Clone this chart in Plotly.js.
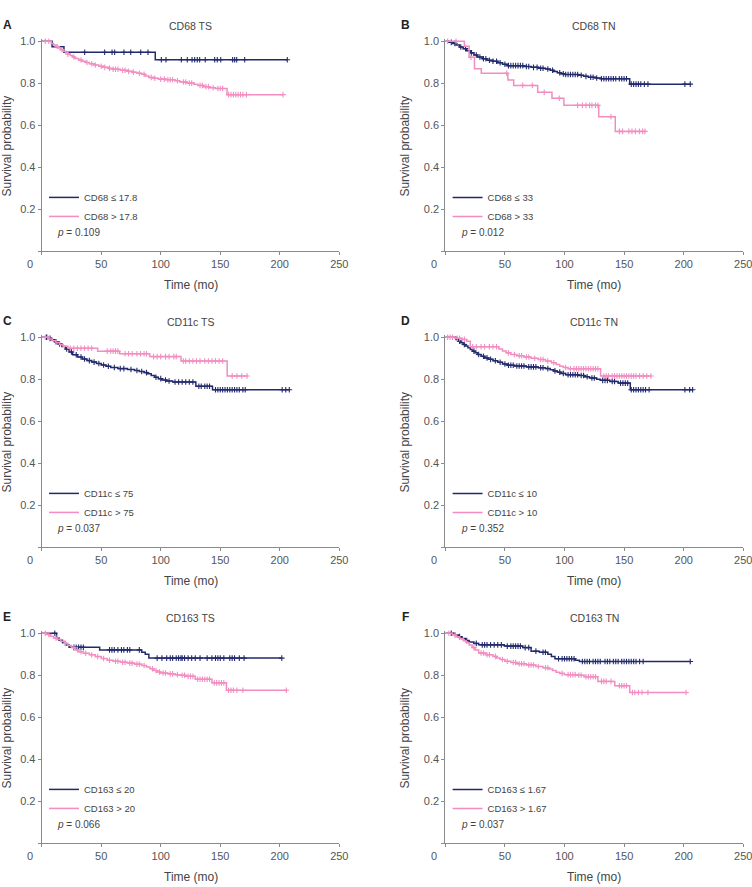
<!DOCTYPE html>
<html>
<head>
<meta charset="utf-8">
<script src="https://cdn.plot.ly/plotly-3.0.1.min.js"></script>
<style>
  html, body { margin: 0; padding: 0; background: #ffffff; }
  #chart { width: 752px; height: 887px; }
</style>
</head>
<body>
<div id="chart"></div>
<script>
// Kaplan-Meier survival curves: six panels, two groups each.
// Each curve: step times (T), survival after each step (S), censoring times (C).

const panelLetters = ['A', 'B', 'C', 'D', 'E', 'F'];
const panelTitles = ['CD68 TS', 'CD68 TN', 'CD11c TS', 'CD11c TN', 'CD163 TS', 'CD163 TN'];
const lowLabels = ['CD68 ≤ 17.8', 'CD68 ≤ 33', 'CD11c ≤ 75', 'CD11c ≤ 10', 'CD163 ≤ 20', 'CD163 ≤ 1.67'];
const highLabels = ['CD68 > 17.8', 'CD68 > 33', 'CD11c > 75', 'CD11c > 10', 'CD163 > 20', 'CD163 > 1.67'];
const pValues = ['0.109', '0.012', '0.037', '0.352', '0.066', '0.037'];
const xTicks = [0, 50, 100, 150, 200, 250];
const yTicks = [0, 0.2, 0.4, 0.6, 0.8, 1.0];

// A: CD68 TS
const aLowT = [0, 8.7, 18.7, 95.4];
const aLowS = [1, 0.974, 0.948, 0.912];
const aLowC = [36.1, 52.9, 59.1, 61.3, 69.1, 74.8, 83.2, 89.3, 100.5, 104.4, 117.3, 122.3, 126.3, 128.5, 130.7, 132.7, 137.4, 145.3, 147.5, 150.4, 160.4, 162.1, 163.8, 170.5, 206.3];
const aHighT = [0, 8, 10, 12, 14, 16, 18, 20, 22, 24, 26, 28, 31, 34, 37, 40, 44, 48, 52, 56, 60, 66, 72, 76, 80, 84, 87, 90, 94, 98, 104, 112, 116, 122, 128, 131, 136, 141, 146, 155.7];
const aHighS = [1, 0.99, 0.982, 0.975, 0.968, 0.96, 0.953, 0.946, 0.939, 0.932, 0.925, 0.918, 0.911, 0.905, 0.899, 0.893, 0.887, 0.881, 0.876, 0.871, 0.867, 0.862, 0.857, 0.853, 0.848, 0.843, 0.835, 0.828, 0.824, 0.82, 0.817, 0.812, 0.806, 0.801, 0.796, 0.79, 0.784, 0.779, 0.775, 0.746];
const aHighC = [3, 6, 13, 17, 22, 27, 33, 38, 42, 45, 50, 53, 57, 60, 62, 64, 68, 70, 73, 77, 82, 86, 92, 95, 100, 103, 106, 108, 110, 114, 119, 121, 124, 126, 133, 135, 138, 140, 144, 148, 150, 152, 157, 159, 161, 163, 165, 167, 169, 172, 202.7];

// B: CD68 TN
const bLowT = [0, 3, 6, 9, 12, 15, 18, 21, 24, 27, 31, 35, 40, 44, 48, 52, 66, 72, 78, 84, 88, 91, 94, 97, 100, 112, 116, 120, 126, 130, 154.7];
const bLowS = [1, 0.995, 0.99, 0.982, 0.973, 0.965, 0.955, 0.945, 0.935, 0.925, 0.917, 0.91, 0.905, 0.898, 0.891, 0.884, 0.88, 0.876, 0.872, 0.868, 0.862, 0.856, 0.85, 0.845, 0.842, 0.838, 0.833, 0.829, 0.825, 0.822, 0.796];
const bLowC = [5, 8, 13, 17, 22, 26, 29, 32, 34, 37, 40, 43, 46, 50, 53, 55, 57, 59, 61, 63, 65, 68, 70, 74, 77, 80, 82, 86, 90, 96, 99, 101, 103, 105, 107, 109, 111, 114, 118, 122, 124, 127, 131, 133, 135, 137, 139, 141, 143, 146, 148, 150, 152, 156, 158, 160, 162, 164, 167, 170, 201, 205.5];
const bHighT = [0, 16, 20, 24.5, 30.2, 52.5, 57.4, 77.5, 89.5, 99.5, 128.7, 142.6];
const bHighS = [1, 0.976, 0.924, 0.869, 0.848, 0.816, 0.79, 0.757, 0.729, 0.695, 0.641, 0.571];
const bHighC = [2, 9, 21.5, 51.5, 65, 73, 83, 95.6, 111, 115, 118, 121, 123, 126, 128, 139, 146, 148.8, 154, 156.6, 159.4, 162.8, 165.6, 167.5];

// C: CD11c TS
const cLowT = [0, 5, 8, 11, 14, 17, 20, 23, 26, 30, 34, 38, 42, 46, 50, 54, 58, 64, 72, 78, 82, 86, 89, 92, 95, 98, 101, 105, 110, 129.5, 143.5];
const cLowS = [1, 0.995, 0.988, 0.979, 0.968, 0.956, 0.944, 0.93, 0.917, 0.906, 0.897, 0.889, 0.882, 0.875, 0.868, 0.862, 0.856, 0.851, 0.847, 0.842, 0.837, 0.832, 0.826, 0.818, 0.81, 0.803, 0.797, 0.792, 0.787, 0.767, 0.75];
const cLowC = [4, 7, 12, 15, 21, 25, 29, 33, 36, 40, 44, 48, 52, 56, 61, 66, 69, 75, 80, 84, 88, 96, 100, 104, 107, 112, 115, 118, 121, 124, 127, 132, 134, 137, 139, 141, 146, 148, 150, 152, 154, 156, 158, 160, 162, 164, 166, 169, 171, 202, 205, 208];
const cHighT = [0, 6, 9, 12, 15, 18, 22, 47, 65.5, 90.7, 117, 155.8];
const cHighS = [1, 0.992, 0.984, 0.975, 0.966, 0.957, 0.948, 0.934, 0.922, 0.908, 0.887, 0.816];
const cHighC = [3, 5, 24, 27, 30, 33, 36, 39, 42, 55, 58, 60, 62, 64, 70, 73, 76, 80, 83, 86, 88, 94, 97, 100, 104, 107, 111, 113, 119, 121, 124, 127, 130, 133, 137, 140, 143, 146, 149, 152, 160, 164, 168, 172.5];

// D: CD11c TN
const dLowT = [0, 9, 11, 13, 15, 17, 19, 21, 23, 25, 27, 30, 33, 36, 40, 44, 48, 52, 58, 68, 78, 84, 88, 91, 94, 97, 101, 112, 117, 121, 127, 130, 138, 145, 155.2];
const dLowS = [1, 0.99, 0.982, 0.974, 0.966, 0.958, 0.95, 0.942, 0.934, 0.926, 0.918, 0.91, 0.902, 0.895, 0.888, 0.881, 0.873, 0.867, 0.863, 0.859, 0.855, 0.851, 0.846, 0.84, 0.834, 0.828, 0.822, 0.818, 0.812, 0.806, 0.8, 0.795, 0.79, 0.782, 0.75];
const dLowC = [12, 16, 24, 28, 32, 35, 38, 42, 46, 50, 53, 55, 57, 60, 62, 64, 66, 70, 72, 74, 76, 80, 82, 86, 92, 96, 99, 103, 105, 107, 109, 111, 114, 116, 119, 123, 125, 132, 134, 136, 140, 142, 147, 149, 151, 153, 156, 158, 160, 162, 164, 166, 168, 171, 201, 205, 207.5];
const dHighT = [0, 8, 14, 18, 21, 45, 48, 51, 55, 60, 66, 72, 78, 84, 89, 93, 96, 99, 103, 130.3];
const dHighS = [1, 0.995, 0.99, 0.981, 0.955, 0.944, 0.935, 0.926, 0.918, 0.912, 0.906, 0.9, 0.894, 0.887, 0.879, 0.87, 0.862, 0.856, 0.85, 0.816];
const dHighC = [2, 4, 6, 10, 12, 16, 23, 26, 30, 33, 37, 40, 43, 53, 58, 62, 64, 68, 70, 75, 80, 82, 86, 91, 101, 105, 108, 110, 112, 114, 116, 118, 120, 122, 124, 126, 128, 133, 135, 137, 140, 142, 144, 146, 148, 150, 152, 154, 156, 158, 160, 163, 166, 169, 172.5];

// E: CD163 TS
const eLowT = [0, 12.5, 14.5, 17.5, 20, 23, 48.7, 84, 87, 90];
const eLowS = [1, 0.978, 0.967, 0.955, 0.944, 0.933, 0.921, 0.91, 0.9, 0.882];
const eLowC = [11, 27, 29, 31, 33, 35, 57, 59, 61, 64, 67, 69, 72, 74, 82, 97, 101, 105, 108, 110, 113, 115, 117, 118, 120, 123, 126, 129, 133, 139, 143, 146, 148, 150, 153, 158, 160, 162, 166, 170, 201.7];
const eHighT = [0, 4, 7, 10, 13, 16, 19, 22, 25, 28, 31, 35, 40, 45, 50, 55, 60, 66, 72, 78, 84, 88, 91, 94, 97, 100, 106, 112, 116, 121, 129, 143, 155.2];
const eHighS = [1, 0.994, 0.986, 0.978, 0.97, 0.962, 0.952, 0.942, 0.932, 0.922, 0.912, 0.905, 0.898, 0.889, 0.88, 0.872, 0.867, 0.862, 0.858, 0.853, 0.847, 0.839, 0.831, 0.823, 0.816, 0.811, 0.807, 0.803, 0.8, 0.795, 0.781, 0.764, 0.729];
const eHighC = [3, 6, 12, 20, 27, 30, 33, 37, 42, 47, 52, 57, 62, 64, 68, 70, 74, 76, 80, 82, 86, 93, 96, 99, 102, 104, 108, 110, 114, 118, 120, 123, 125, 127, 131, 133, 135, 137, 139, 141, 145, 147, 149, 151, 153, 157, 159, 161, 164, 169, 205.5];

// F: CD163 TN
const fLowT = [0, 8, 11, 14, 17, 20, 24, 28, 49.5, 65, 72, 79, 86, 89, 92, 109, 112.5];
const fLowS = [1, 0.992, 0.984, 0.975, 0.966, 0.958, 0.952, 0.945, 0.939, 0.932, 0.915, 0.91, 0.9, 0.89, 0.879, 0.872, 0.866];
const fLowC = [5, 12, 18, 26, 31, 33, 35, 38, 41, 44, 47, 52, 55, 57, 59, 61, 63, 67, 70, 76, 82, 84, 95, 98, 100, 102, 104, 106, 108, 115, 117, 119, 121, 124, 126, 128, 130, 134, 136, 138, 141, 143, 145, 148, 150, 152, 154, 156, 158, 160, 163, 166, 205.5];
const fHighT = [0, 6, 9, 12, 15, 17.5, 20, 22.5, 25, 28, 34, 40, 43, 46, 50, 55, 60, 68, 76, 82, 87, 90, 93, 96, 100, 110, 116.5, 128, 142.2, 154.7];
const fHighS = [1, 0.992, 0.983, 0.974, 0.965, 0.955, 0.944, 0.932, 0.92, 0.906, 0.898, 0.89, 0.882, 0.875, 0.867, 0.861, 0.855, 0.849, 0.842, 0.836, 0.83, 0.823, 0.815, 0.809, 0.803, 0.8, 0.793, 0.771, 0.75, 0.718];
const fHighC = [3, 8, 24, 30, 32, 35, 37, 42, 48, 52, 57, 59, 62, 64, 66, 70, 72, 74, 78, 84, 86, 98, 103, 105, 107, 109, 112, 114, 118, 120, 122, 124, 126, 131, 133, 135, 139, 146, 148, 150, 152, 157, 159, 162, 165, 170, 202];

const lowCurves = [[aLowT, aLowS, aLowC], [bLowT, bLowS, bLowC], [cLowT, cLowS, cLowC],
                   [dLowT, dLowS, dLowC], [eLowT, eLowS, eLowC], [fLowT, fLowS, fLowC]];
const highCurves = [[aHighT, aHighS, aHighC], [bHighT, bHighS, bHighC], [cHighT, cHighS, cHighC],
                    [dHighT, dHighS, dHighC], [eHighT, eHighS, eHighC], [fHighT, fHighS, fHighC]];

const NAVY = '#222a6c';
const PINK = '#f28dc1';
const AXIS = '#8a8a8a';
const FONT = 'Liberation Sans, Arial, sans-serif';

// survival level in effect at time t
function survAt(T, S, t) {
  let s = S[0];
  for (let i = 0; i < T.length; i++) { if (T[i] <= t) s = S[i]; }
  return s;
}

const colDomains = [[0.05545, 0.45120], [0.59215, 0.98843]];
const rowDomains = [[0.71669, 0.95581], [0.38298, 0.62210], [0.04927, 0.28839]];
const legendTops = [0.7938, 0.46009, 0.12638];
const legendLefts = [44 / 752, 447.6 / 752];
// letters and y titles sit 40px left of the axis; the left column keeps them inside the page
const sideShift = [-34.5, -40];

const traces = [];
const annotations = [];
const layout = {
  width: 752, height: 887,
  margin: { l: 0, r: 0, t: 0, b: 0 },
  paper_bgcolor: '#ffffff', plot_bgcolor: '#ffffff',
  showlegend: true,
  font: { family: FONT, color: '#444444' }
};

function addCurve(curve, name, color, xid, yid, legendId) {
  const [T, S, C] = curve;
  const end = Math.max(T[T.length - 1], C[C.length - 1]);
  traces.push({
    type: 'scatter', mode: 'lines', name: name,
    x: T.concat([end]), y: S.concat([S[S.length - 1]]),
    line: { shape: 'hv', color: color, width: 1.5 },
    xaxis: xid, yaxis: yid, legend: legendId, hoverinfo: 'skip'
  });
  traces.push({
    type: 'scatter', mode: 'markers', showlegend: false,
    x: C, y: C.map(t => survAt(T, S, t)),
    marker: { symbol: 'cross-thin', size: 4, color: color, line: { width: 1.1, color: color } },
    cliponaxis: false,
    xaxis: xid, yaxis: yid, hoverinfo: 'skip'
  });
}

for (let i = 0; i < 6; i++) {
  const col = i % 2, row = Math.floor(i / 2);
  const n = i === 0 ? '' : String(i + 1);
  const xid = 'x' + n, yid = 'y' + n;
  const legendId = 'legend' + n;

  layout['xaxis' + n] = {
    domain: colDomains[col], anchor: yid, range: [0, 250],
    tickvals: xTicks, ticktext: xTicks.map(v => v === 0 ? '' : String(v)),
    ticks: 'outside', ticklen: 3, tickwidth: 1, tickcolor: AXIS,
    ticklabeloverflow: 'allow',
    showline: true, linecolor: AXIS, linewidth: 1,
    showgrid: false, zeroline: false, fixedrange: true,
    tickfont: { family: FONT, size: 11, color: '#555555' }
  };
  layout['yaxis' + n] = {
    domain: rowDomains[row], anchor: xid, range: [0, 1.01],
    tickvals: yTicks, ticktext: yTicks.map(v => v === 0 ? '' : v.toFixed(1)),
    ticks: 'outside', ticklen: 3, tickwidth: 1, tickcolor: AXIS,
    showline: true, linecolor: AXIS, linewidth: 1,
    showgrid: false, zeroline: false, fixedrange: true,
    tickfont: { family: FONT, size: 11, color: '#555555' }
  };
  layout[legendId] = {
    x: legendLefts[col], y: legendTops[row], xanchor: 'left', yanchor: 'top',
    bgcolor: 'rgba(0,0,0,0)', borderwidth: 0,
    font: { family: FONT, size: 9.5, color: '#444444' }
  };

  addCurve(lowCurves[i], lowLabels[i], NAVY, xid, yid, legendId);
  addCurve(highCurves[i], highLabels[i], PINK, xid, yid, legendId);

  annotations.push(
    { text: panelTitles[i], xref: xid + ' domain', x: 0.5, yref: yid, y: 1, yshift: 15.6,
      xanchor: 'center', yanchor: 'middle', showarrow: false,
      font: { family: FONT, size: 10.5, color: '#444444' } },
    { text: '<b>' + panelLetters[i] + '</b>', xref: xid + ' domain', x: 0, xshift: sideShift[col],
      yref: yid, y: 1, yshift: 16.3, xanchor: 'center', yanchor: 'middle', showarrow: false,
      font: { family: FONT, size: 12, color: '#222222' } },
    { text: 'Survival probability', xref: xid + ' domain', x: 0, xshift: sideShift[col],
      yref: yid, y: 0.5, textangle: -90, xanchor: 'center', yanchor: 'middle', showarrow: false,
      font: { family: FONT, size: 12, color: '#444444' } },
    { text: 'Time (mo)', xref: xid + ' domain', x: 0.5, yref: yid + ' domain', y: 0, yshift: -34,
      xanchor: 'center', yanchor: 'middle', showarrow: false,
      font: { family: FONT, size: 12, color: '#444444' } },
    { text: '0', xref: xid + ' domain', x: 0, xshift: -11.7, yref: yid + ' domain', y: 0, yshift: -13,
      xanchor: 'center', yanchor: 'middle', showarrow: false,
      font: { family: FONT, size: 11, color: '#555555' } },
    { text: '<i>p</i> = ' + pValues[i], xref: xid, x: 11.2, yref: yid, y: 0.09,
      xanchor: 'left', yanchor: 'middle', showarrow: false,
      font: { family: FONT, size: 10, color: '#444444' } }
  );
}

layout.annotations = annotations;

Plotly.newPlot('chart', traces, layout, { staticPlot: true, displayModeBar: false });
</script>
</body>
</html>
